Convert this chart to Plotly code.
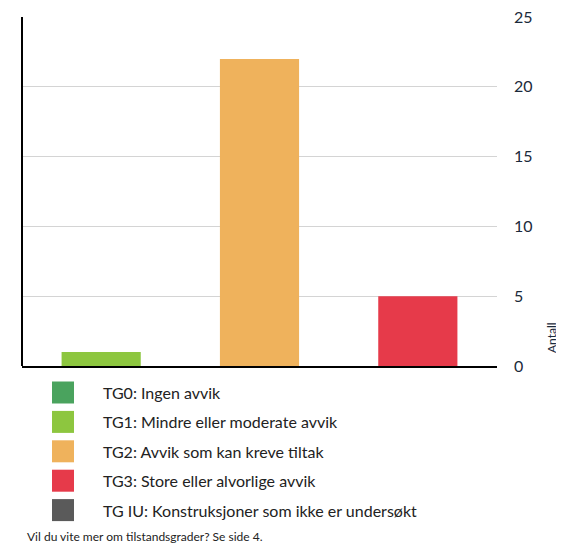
import plotly.graph_objects as go

categories = ["TG1", "TG2", "TG3"]
values = [1, 22, 5]
bar_colors = ["#8dc63f", "#efb25c", "#e63a4a"]

legend_labels = [
    "TG0: Ingen avvik",
    "TG1: Mindre eller moderate avvik",
    "TG2: Avvik som kan kreve tiltak",
    "TG3: Store eller alvorlige avvik",
    "TG IU: Konstruksjoner som ikke er undersøkt",
]
legend_colors = ["#4aa35e", "#8dc63f", "#efb25c", "#e63a4a", "#5a5a5a"]
footer = "Vil du vite mer om tilstandsgrader? Se side 4."
y_ticks = [0, 5, 10, 15, 20, 25]

OFF = 8  # page body margin
W, H = 564 - OFF, 545 - OFF
# plot area in screen pixels: x 22..497, y 17..366
L = 22 - OFF
T = 17 - OFF
R = W - (497 - OFF)
B = H - (366 - OFF)
plot_h = H - T - B
plot_w = W - L - R

def py(ypx):
    return (366 - ypx) / plot_h

def px(xpx):
    return (xpx - 22) / plot_w

fig = go.Figure()
fig.add_trace(go.Bar(x=categories, y=values, marker=dict(color=bar_colors, line=dict(width=0)),
                     width=0.5, hoverinfo="skip"))

font = "Lato"
shapes = [dict(type="line", xref="paper", yref="paper", x0=0, x1=0, y0=0, y1=1,
               line=dict(color="black", width=2))]
annotations = []
for i, (lab, col) in enumerate(zip(legend_labels, legend_colors)):
    yc = 392.5 + i * 29.4
    shapes.append(dict(type="rect", xref="paper", yref="paper",
                       x0=px(52), x1=px(74), y0=py(yc - 11), y1=py(yc + 11),
                       fillcolor=col, line=dict(width=0)))
    annotations.append(dict(text=lab, xref="paper", yref="paper", x=px(101), y=py(yc),
                            xanchor="left", yanchor="middle", showarrow=False,
                            font=dict(family=font, size=16, color="#222222")))
annotations.append(dict(text=footer, xref="paper", yref="paper", x=px(25), y=py(536),
                        xanchor="left", yanchor="middle", showarrow=False,
                        font=dict(family=font, size=12, color="#222222")))
annotations.append(dict(text="Antall", xref="paper", yref="paper", x=px(551), y=py(338),
                        xanchor="center", yanchor="middle", showarrow=False, textangle=-90,
                        font=dict(family=font, size=12, color="#1b2a3a")))

fig.update_layout(
    width=W, height=H,
    margin=dict(l=L, r=R, t=T, b=B, autoexpand=False),
    paper_bgcolor="white", plot_bgcolor="white",
    showlegend=False,
    bargap=0.5,
    xaxis=dict(showticklabels=False, showgrid=False, showline=True, linecolor="black",
               linewidth=2, ticks="", zeroline=False, automargin=False),
    yaxis=dict(side="right", range=[0, 25], tickvals=y_ticks, showgrid=True,
               gridcolor="#d4d4d4", gridwidth=1, zeroline=False, showline=False,
               ticks="", ticklabelstandoff=16, ticklabeloverflow="allow", automargin=False,
               tickfont=dict(family=font, size=16, color="#1b2a3a")),
    shapes=shapes,
    annotations=annotations,
)

fig.write_html("out.html")
